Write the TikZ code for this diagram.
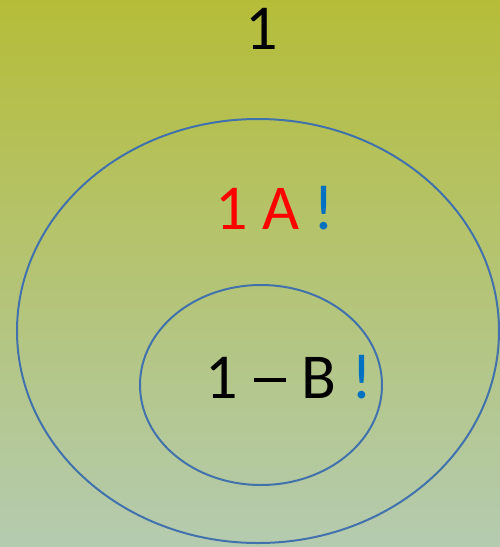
\documentclass[tikz,border=0pt]{standalone}
\usepackage{fontspec}
\setmainfont{Carlito}
\definecolor{bgtop}{RGB}{181,189,56}
\definecolor{bgbot}{RGB}{180,203,176}
\definecolor{ring}{RGB}{66,114,172}
\definecolor{excl}{RGB}{0,112,192}
\newcommand{\mydash}{\kern1pt\rule[0.25em]{0.5em}{0.075em}\kern1pt}
\begin{document}
\begin{tikzpicture}[x=0.75pt,y=-0.75pt,
  ringstyle/.style={draw=ring,line width=1.5pt},
  bigtext/.style={font=\fontsize{48}{56}\selectfont,inner sep=0pt,anchor=center}]
\shade[top color=bgtop,bottom color=bgbot] (0,0) rectangle (500,547);
\useasboundingbox (0,0) rectangle (500,547);
\draw[ringstyle] (258,331) ellipse [x radius=241,y radius=212];
\draw[ringstyle] (261,385) ellipse [x radius=121,y radius=100];
\node[bigtext] (top) at (262,29) {1};
\node[bigtext] (a) at (275,208) {\textcolor{red}{1 A} \textcolor{excl}{!}};
\node[bigtext] (b) at (289,377) {1 \mydash{} B \textcolor{excl}{!}};
\end{tikzpicture}
\end{document}
